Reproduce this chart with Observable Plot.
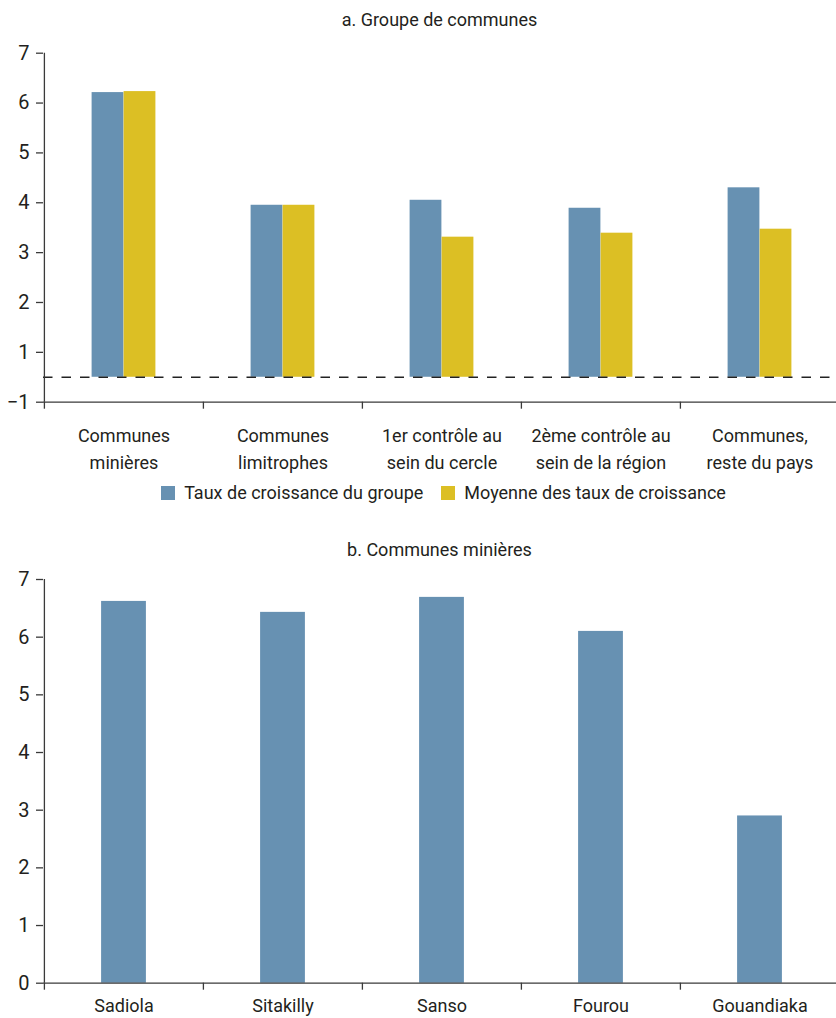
<!DOCTYPE html>
<html lang="fr">
<head>
<meta charset="utf-8">
<script src="https://cdn.jsdelivr.net/npm/d3@7"></script>
<script src="https://cdn.jsdelivr.net/npm/@observablehq/plot@0.6"></script>
<style>
  html, body { margin: 0; padding: 0; background: #fff; overflow: hidden; }
  #page { position: relative; width: 836px; height: 1018px; font-family: Roboto, "Open Sans", sans-serif; color: #231f20; }
  .title { position: absolute; left: 43px; width: 793px; text-align: center; font-size: 18px; line-height: 22px; }
  .panel { position: absolute; left: 0; }
  .legend { position: absolute; left: 56px; width: 793px; }
</style>
</head>
<body>
<div id="page">
  <div class="title" style="top:9px">a. Groupe de communes</div>
  <div class="panel" id="panelA" style="top:30px"></div>
  <div class="legend" id="legendA" style="top:476px"></div>
  <div class="title" style="top:539px">b. Communes minières</div>
  <div class="panel" id="panelB" style="top:565px"></div>
</div>
<script>
// Panel a: growth rate per group of communes vs. mean of the communes' rates
const groupCategories = [
  "Communes\nminières",
  "Communes\nlimitrophes",
  "1er contrôle au\nsein du cercle",
  "2ème contrôle au\nsein de la région",
  "Communes,\nreste du pays"
];
const groupSeries = ["Taux de croissance du groupe", "Moyenne des taux de croissance"];
const groupRates = [6.21, 3.95, 4.05, 3.89, 4.30];
const groupMeans = [6.23, 3.95, 3.31, 3.39, 3.47];
const groupTicks = [-1, 1, 2, 3, 4, 5, 6, 7];

// Panel b: mining communes
const mineCommunes = ["Sadiola", "Sitakilly", "Sanso", "Fourou", "Gouandiaka"];
const mineRates = [6.62, 6.43, 6.69, 6.10, 2.90];
const mineTicks = [0, 1, 2, 3, 4, 5, 6, 7];

// Styling
const blue = "#6791b2";
const yellow = "#dcbf24";
const ink = "#231f20";
const axisInk = "#3a3a3a";
const font = "Roboto, 'Open Sans', sans-serif";

const width = 836;
const left = 43;
const step = 159.2;          // width of one category band
const half = step / 2;
const pairBar = 32;          // width of each bar in panel a
const singleBar = 45;        // width of each bar in panel b

const minus = d => (d < 0 ? "\u2212" + Math.abs(d) : String(d));

// broken axis for panel a: the stretch between -1 and 1 is drawn at half scale
const breakAxis = v => (v < 1 ? (v + 1) / 2 : v);
// the axis mark places its ticks in the scale's own space, so map them first
const groupTickPositions = groupTicks.map(breakAxis);
const groupTickLabel = t => minus(groupTicks[groupTickPositions.indexOf(t)]);

const groupData = groupCategories.map((category, i) => ({
  category,
  rate: groupRates[i],
  mean: groupMeans[i]
}));

const chartA = Plot.plot({
  width,
  height: 440,
  marginLeft: left,
  marginRight: 0,
  marginTop: 22.7,
  marginBottom: 68.3,
  style: { fontFamily: font, fontSize: "18px", color: ink, background: "#fff", overflow: "visible" },
  x: { type: "band", domain: groupCategories, range: [left, left + step * groupCategories.length], padding: 0, axis: null, label: null },
  y: { type: "linear", transform: breakAxis, domain: [0, 7], axis: null, label: null },
  marks: [
    Plot.barY(groupData, { x: "category", y1: 0, y2: "rate", fill: blue, insetLeft: half - pairBar, insetRight: half }),
    Plot.barY(groupData, { x: "category", y1: 0, y2: "mean", fill: yellow, insetLeft: half, insetRight: half - pairBar }),
    Plot.ruleY([0], { stroke: "#222", strokeWidth: 1.4, strokeDasharray: "9.5,9" }),
    Plot.ruleY([-1], { stroke: axisInk, strokeWidth: 1.3 }),
    Plot.ruleX([groupCategories[0]], { x: d => d, y1: -1, y2: 7, dx: -half, stroke: axisInk, strokeWidth: 1.3 }),
    Plot.axisX({ ticks: groupCategories, tickSize: 7, tickFormat: () => "", dx: -half, stroke: axisInk, strokeWidth: 1.3, label: null }),
    Plot.axisX({ ticks: groupCategories, tickSize: 0, tickPadding: 21, lineHeight: 1.5, fontSize: 18, fill: ink, label: null }),
    Plot.axisY({ ticks: groupTickPositions, tickSize: 7, tickPadding: 7, tickFormat: groupTickLabel, fontSize: 20, stroke: axisInk, fill: ink, strokeWidth: 1.3, label: null })
  ]
});
document.getElementById("panelA").append(chartA);

const legendA = Plot.legend({
  color: { type: "ordinal", domain: groupSeries, range: [blue, yellow] },
  swatchSize: 14,
  style: { fontFamily: font, fontSize: "18px", color: ink, justifyContent: "center" }
});
document.getElementById("legendA").append(legendA);

const mineData = mineCommunes.map((commune, i) => ({ commune, rate: mineRates[i] }));

const chartB = Plot.plot({
  width,
  height: 453,
  marginLeft: left,
  marginRight: 0,
  marginTop: 14,
  marginBottom: 35.3,
  style: { fontFamily: font, fontSize: "18px", color: ink, background: "#fff", overflow: "visible" },
  x: { type: "band", domain: mineCommunes, range: [left, left + step * mineCommunes.length], padding: 0, axis: null, label: null },
  y: { domain: [0, 7], axis: null, label: null },
  marks: [
    Plot.barY(mineData, { x: "commune", y1: 0, y2: "rate", fill: blue, insetLeft: half - singleBar / 2, insetRight: half - singleBar / 2 }),
    Plot.ruleY([0], { stroke: axisInk, strokeWidth: 1.3 }),
    Plot.ruleX([mineCommunes[0]], { x: d => d, y1: 0, y2: 7, dx: -half, stroke: axisInk, strokeWidth: 1.3 }),
    Plot.axisX({ ticks: mineCommunes, tickSize: 7, tickFormat: () => "", dx: -half, stroke: axisInk, strokeWidth: 1.3, label: null }),
    Plot.axisX({ ticks: mineCommunes, tickSize: 0, tickPadding: 15.8, fontSize: 18, fill: ink, label: null }),
    Plot.axisY({ ticks: mineTicks, tickSize: 7, tickPadding: 7, tickFormat: minus, fontSize: 20, stroke: axisInk, fill: ink, strokeWidth: 1.3, label: null })
  ]
});
document.getElementById("panelB").append(chartB);
</script>
</body>
</html>
